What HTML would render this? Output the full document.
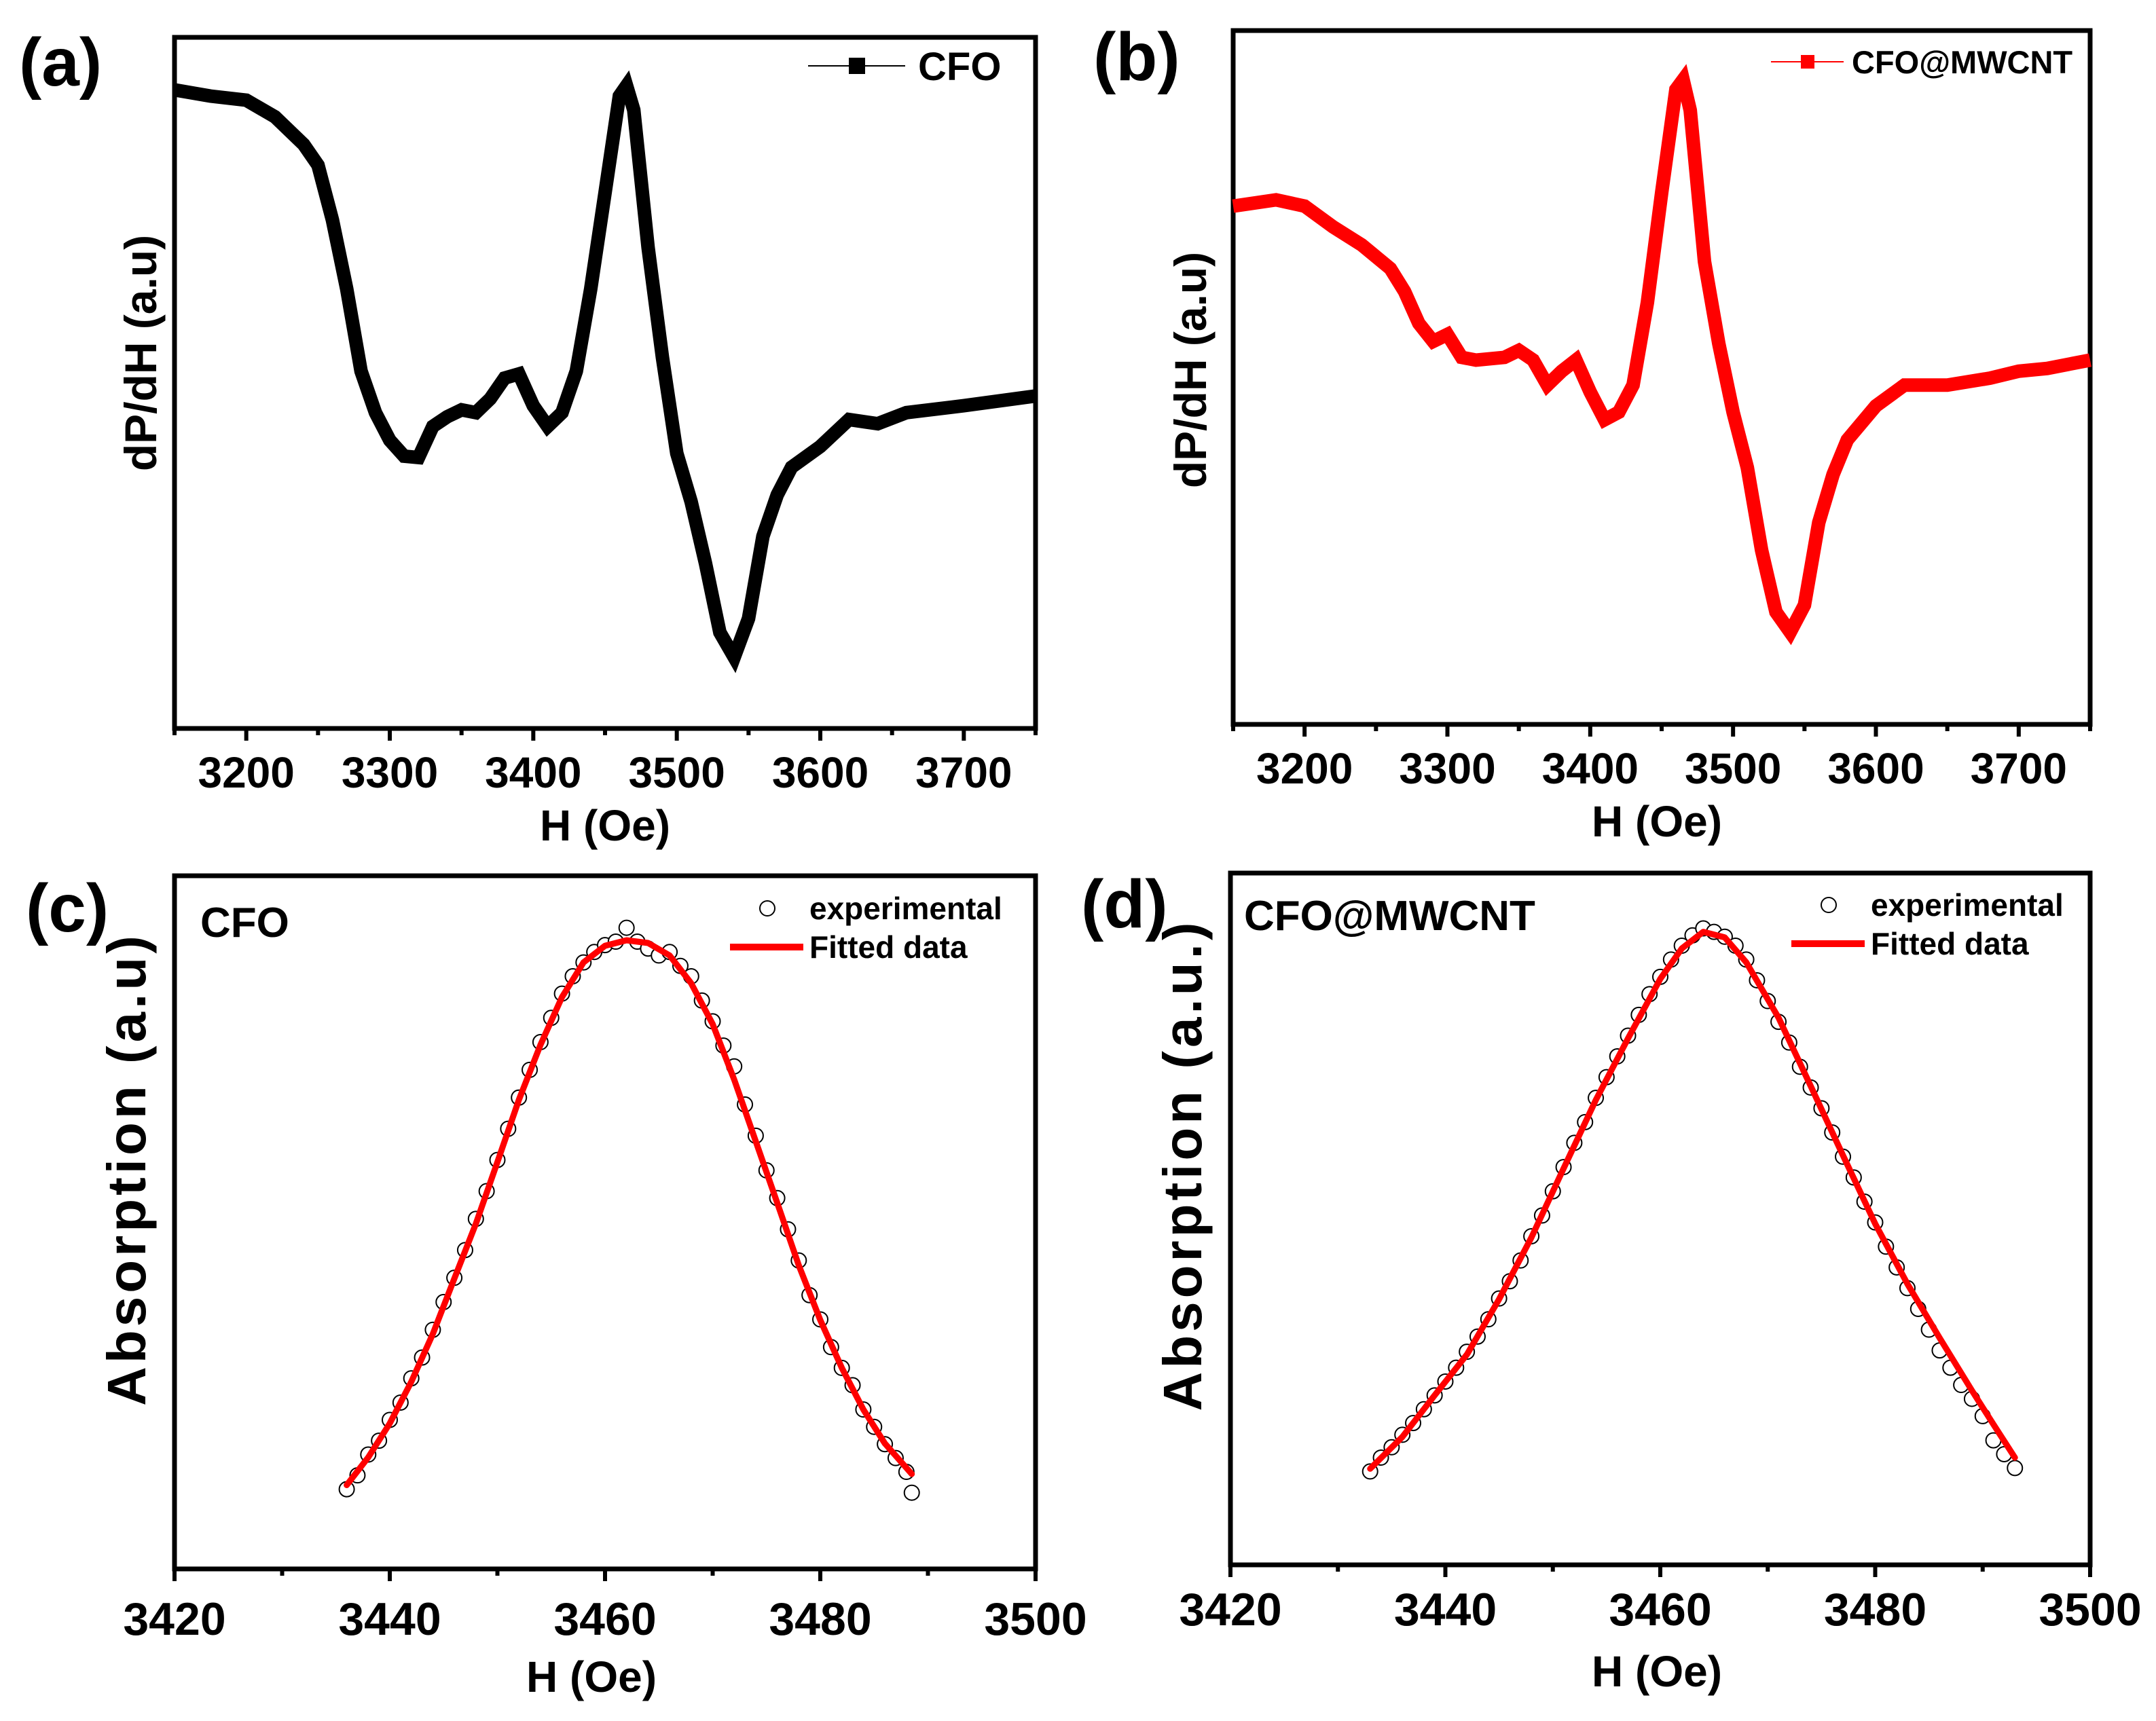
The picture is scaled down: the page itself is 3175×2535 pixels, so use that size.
<!DOCTYPE html>
<html><head><meta charset="utf-8"><style>
html,body{margin:0;padding:0;background:#fff}
svg{display:block}
text{font-family:"Liberation Sans",sans-serif;font-weight:bold;fill:#000}
.nar{font-family:"Liberation Sans Narrow","Liberation Sans",sans-serif}
</style></head><body>
<svg id="fig" xmlns="http://www.w3.org/2000/svg" width="3175" height="2535" viewBox="0 0 3175 2535"></svg>
<script>
// ---- data ----
const aH=[3150,3175,3200,3220,3240,3250,3260,3270,3280,3290,3300,3310,3320,3330,3340,3350,3360,3370,3380,3390,3400,3410,3420,3430,3440,3450,3460,3465,3470,3480,3490,3500,3510,3520,3530,3540,3550,3560,3570,3580,3600,3620,3640,3660,3700,3750];
const aY=[92.4,91.5,90.9,88.5,84.5,81.5,73.6,63.6,51.7,45.7,41.7,39.4,39.2,43.7,45.1,46.1,45.7,47.7,50.7,51.3,46.7,43.7,45.7,51.7,63.6,77.5,91.5,93.0,89.5,69.6,53.7,39.8,32.8,23.9,13.9,10.3,15.9,27.8,33.8,37.8,40.8,44.7,44.1,45.7,46.7,48.1];
const bH=[3150,3180,3200,3220,3240,3260,3270,3280,3290,3300,3310,3320,3340,3350,3360,3370,3380,3390,3400,3410,3420,3430,3440,3450,3460,3465,3470,3480,3490,3500,3510,3520,3530,3540,3550,3560,3570,3580,3600,3620,3650,3680,3700,3720,3750];
const bY=[74.7,75.6,74.7,71.7,69.1,65.7,62.4,57.8,55.2,56.2,52.9,52.5,52.9,53.9,52.5,48.9,50.9,52.5,47.9,43.9,45.0,48.9,60.8,76.6,91.5,92.9,88.5,66.7,54.9,45.0,37.0,25.1,16.2,13.3,17.2,29.1,36.0,41.0,45.9,48.9,48.9,49.9,50.9,51.3,52.5];
const cFitH=[3436,3438,3440,3442,3444,3446,3448,3450,3452,3454,3456,3458,3460,3462,3464,3466,3468,3470,3472,3474,3476,3478,3480,3482,3484,3486,3488.5];
const cFitY=[12.1,16.1,21.0,27.0,33.9,41.9,49.8,58.7,67.7,75.6,82.5,87.5,89.9,90.7,90.3,88.5,84.5,78.6,70.6,61.7,52.8,43.8,35.9,29.0,23.0,18.1,13.7];
const cExpH=[3436,3437,3438,3439,3440,3441,3442,3443,3444,3445,3446,3447,3448,3449,3450,3451,3452,3453,3454,3455,3456,3457,3458,3459,3460,3461,3462,3463,3464,3465,3466,3467,3468,3469,3470,3471,3472,3473,3474,3475,3476,3477,3478,3479,3480,3481,3482,3483,3484,3485,3486,3487,3488,3488.5];
const cExpY=[11.5,13.5,16.5,18.5,21.5,24,27.5,30.5,34.5,38.5,42,46,50.5,54.5,59,63.5,68,72,76,79.5,83,85.5,87.5,89,90,90.5,92.5,90.5,89.5,88.5,89,87,85.5,82,79,75.5,72.5,67,62.5,57.5,53.5,49,44.5,39.5,36,32,29,26.5,23,20.5,18,16,14,11];
const dFitH=[3433,3436,3439,3442,3445,3448,3451,3454,3457,3460,3462,3464,3466,3468,3471,3474,3477,3480,3483,3486,3489,3491,3493];
const dFitY=[13.9,18.5,24.5,30.4,38.4,47.3,57.3,67.2,76.1,84.7,89.1,91.5,90.7,87.1,79.1,69.2,59.2,49.3,40.6,32.8,25.2,20.3,15.5];
const dExpH=[3433,3434,3435,3436,3437,3438,3439,3440,3441,3442,3443,3444,3445,3446,3447,3448,3449,3450,3451,3452,3453,3454,3455,3456,3457,3458,3459,3460,3461,3462,3463,3464,3465,3466,3467,3468,3469,3470,3471,3472,3473,3474,3475,3476,3477,3478,3479,3480,3481,3482,3483,3484,3485,3486,3487,3488,3489,3490,3491,3492,3493];
const dExpY=[13.5,15.5,17,18.8,20.5,22.5,24.5,26.5,28.5,30.8,33,35.5,38.5,41,44,47.5,50.5,54,57.5,61,64,67.5,70.5,73.5,76.5,79.5,82.5,85,87.5,89.5,91,92,91.5,90.8,89.5,87.5,84.5,81.5,78.5,75.5,72,69,66,62.5,59,56,52.5,49.5,46,43,40,37,34,31,28.5,26,24,21.5,18,16,14];
const ticksAB=[3200,3300,3400,3500,3600,3700];
const ticksCD=[3420,3440,3460,3480,3500];

const NS="http://www.w3.org/2000/svg";
const svg=document.getElementById('fig');
function mk(tag,attrs,parent){const e=document.createElementNS(NS,tag);for(const k in attrs)e.setAttribute(k,attrs[k]);(parent||svg).appendChild(e);return e;}
function txt(s,x,y,size,parent,extra){const t=mk('text',Object.assign({x:x,y:y,'font-size':size},extra||{}),parent);t.textContent=s;return t;}

function panel(o){
  const g=mk('g',{});
  
  
  const sx=v=>o.L+(v-o.x0)/(o.x1-o.x0)*(o.R-o.L);
  const sy=v=>o.B-(v-0)/100*(o.B-o.T);
  const box=mk('rect',{x:o.L,y:o.T,width:o.R-o.L,height:o.B-o.T,fill:'none',stroke:'#000','stroke-width':7},g);
  
  
  for(let v=o.x0;v<=o.x1+1e-9;v+=o.minor){
    const x=sx(v);
    const isMaj=o.ticks.indexOf(Math.round(v))>=0;
    const t=mk('line',{x1:x,x2:x,y1:o.B,y2:o.B+(isMaj?18:10),stroke:'#000','stroke-width':6},g);
    
    
  }
  o.ticks.forEach(v=>{
    const t=txt(String(v),sx(v),o.tickY,o.tickSize,g,{'text-anchor':'middle',class:'nar'});
    
    
  });
  const xt=txt('H (Oe)',o.xtX,o.xtY,64,g,{'text-anchor':'middle'});
  
  
  const yt=txt(o.ylab,0,0,o.ySize,g,{'text-anchor':'middle','letter-spacing':o.ySpace||0,transform:`translate(${o.ytX},${o.ytY}) rotate(-90)`});
  
  
  const pl=txt(o.plabel,o.plX,o.plY,100,g);
  
  
  return {g,sx,sy};
}
function pathOf(H,Y,sx,sy){return H.map((h,i)=>(i?'L':'M')+sx(h).toFixed(1)+','+sy(Y[i]).toFixed(1)).join(' ');}

// Panel a
let p=panel({name:'panel-a',L:257,T:55,R:1525,B:1073,x0:3150,x1:3750,minor:50,ticks:ticksAB,tickSize:64,tickY:1160,xtX:891,xtY:1238,ylab:'dP/dH (a.u)',ySize:66,ytX:230,ytY:520,plabel:'(a)',plX:28,plY:126});
let s=mk('path',{d:pathOf(aH,aY,p.sx,p.sy),fill:'none',stroke:'#000','stroke-width':20,'stroke-linejoin':'miter'},p.g);


let lg=mk('g',{},p.g);


mk('line',{x1:1190,x2:1333,y1:97,y2:97,stroke:'#000','stroke-width':2},lg);
mk('rect',{x:1250,y:85,width:24,height:24,fill:'#000'},lg);
txt('CFO',1352,118,58,lg,{class:'nar'});

// Panel b
p=panel({name:'panel-b',L:1816,T:45,R:3078,B:1067,x0:3150,x1:3750,minor:50,ticks:ticksAB,tickSize:64,tickY:1154,xtX:2440,xtY:1232,ylab:'dP/dH (a.u)',ySize:66,ytX:1776,ytY:545,plabel:'(b)',plX:1610,plY:118});
s=mk('path',{d:pathOf(bH,bY,p.sx,p.sy),fill:'none',stroke:'#ff0000','stroke-width':20,'stroke-linejoin':'miter'},p.g);


lg=mk('g',{},p.g);


mk('line',{x1:2608,x2:2715,y1:91,y2:91,stroke:'#ff0000','stroke-width':2},lg);
mk('rect',{x:2652,y:81,width:20,height:20,fill:'#ff0000'},lg);
txt('CFO@MWCNT',2727,108,47,lg,{class:'nar'});

function gaussPanel(o,FH,FY,EH,EY,sub){
  const p=panel(o);
  const eg=mk('g',{},p.g);
  
  
  EH.forEach((h,i)=>{
    const c=mk('circle',{cx:p.sx(h),cy:p.sy(EY[i]),r:11,fill:'#fff',stroke:'#000','stroke-width':2},eg);
    
    
  });
  const f=mk('path',{d:pathOf(FH,FY,p.sx,p.sy),fill:'none',stroke:'#ff0000','stroke-width':9,'stroke-linejoin':'round','stroke-linecap':'round'},p.g);
  
  
  const st=txt(sub,o.subX,o.subY,62,p.g,{class:'nar'});
  
  
  const l1=mk('g',{},p.g);
  
  
  mk('circle',{cx:o.lgX+55,cy:o.lgY,r:11,fill:'#fff',stroke:'#000','stroke-width':2},l1);
  txt('experimental',o.lgX+117,o.lgY+16,46,l1,{class:'nar'});
  const l2=mk('g',{},p.g);
  
  
  mk('line',{x1:o.lgX,x2:o.lgX+108,y1:o.lgY+57,y2:o.lgY+57,stroke:'#ff0000','stroke-width':10},l2);
  txt('Fitted data',o.lgX+117,o.lgY+73,46,l2,{class:'nar'});
}
gaussPanel({name:'panel-c',L:257,T:1290,R:1525,B:2311,x0:3420,x1:3500,minor:10,ticks:ticksCD,tickSize:68,tickY:2408,xtX:871,xtY:2492,ylab:'Absorption (a.u)',ySize:80,ySpace:5,ytX:214,ytY:1722,plabel:'(c)',plX:38,plY:1372,subX:295,subY:1380,lgX:1075,lgY:1338},cFitH,cFitY,cExpH,cExpY,'CFO');
gaussPanel({name:'panel-d',L:1812,T:1286,R:3078,B:2305,x0:3420,x1:3500,minor:10,ticks:ticksCD,tickSize:68,tickY:2394,xtX:2440,xtY:2484,ylab:'Absorption (a.u.)',ySize:80,ySpace:5,ytX:1769,ytY:1716,plabel:'(d)',plX:1592,plY:1366,subX:1832,subY:1370,lgX:2638,lgY:1333},dFitH,dFitY,dExpH,dExpY,'CFO@MWCNT');
</script>
</body></html>
